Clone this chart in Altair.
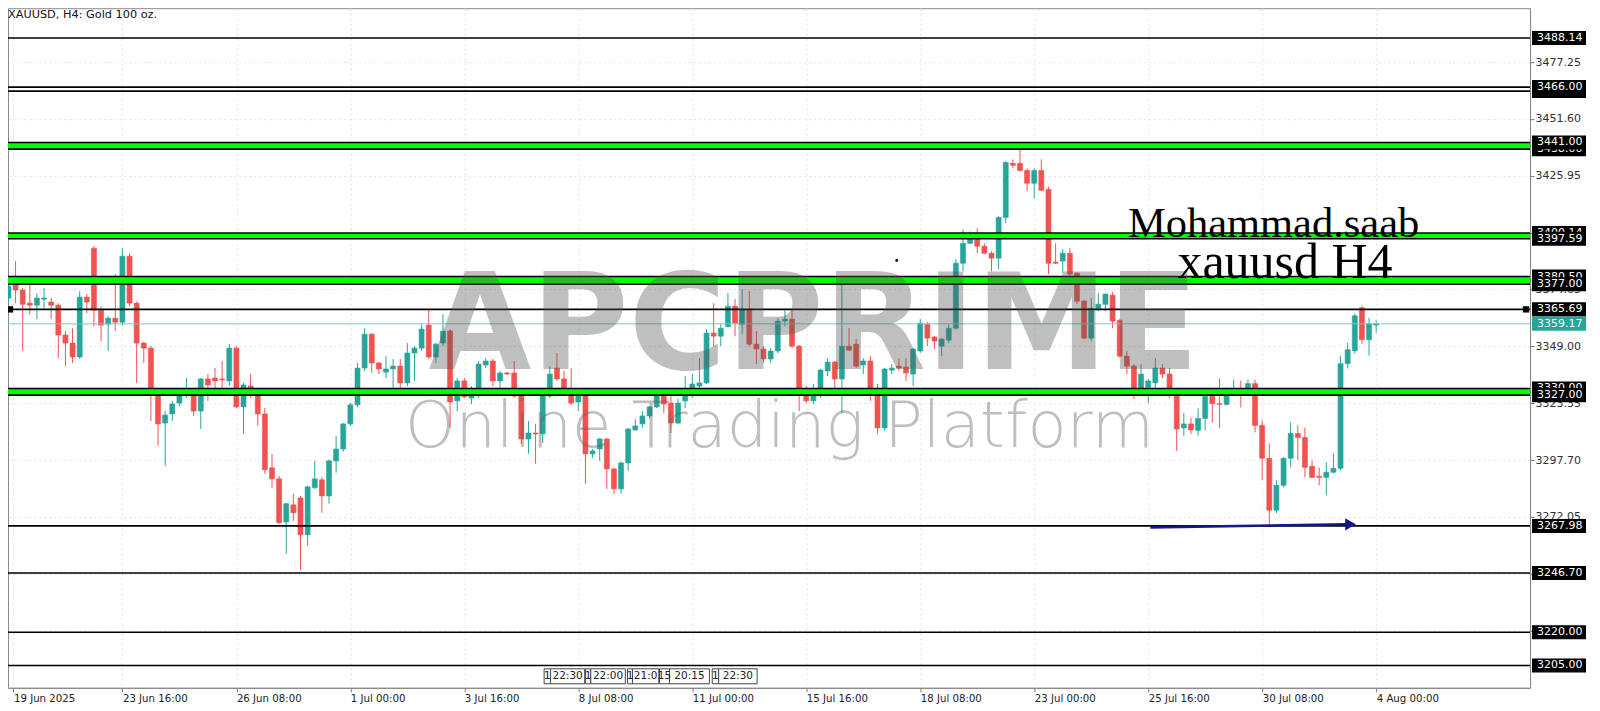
import altair as alt
import pandas as pd

# ---------------- data ----------------
opens = [
    3370.8, 3379.3, 3374.4, 3368.5, 3367.6, 3370.3, 3369.0, 3367.6, 3354.1, 3350.5,
    3344.2, 3371.2, 3393.3, 3365.3, 3359.0, 3361.7, 3359.9, 3389.7, 3368.5, 3350.5,
    3348.2, 3327.5, 3314.4, 3318.5, 3323.4, 3327.0, 3326.6, 3319.8, 3334.3, 3334.7,
    3334.3, 3333.4, 3348.2, 3321.7, 3331.1, 3326.6, 3318.5, 3294.2, 3289.2, 3269.8,
    3277.5, 3280.6, 3264.0, 3285.2, 3288.8, 3281.5, 3297.3, 3302.7, 3314.0, 3322.6,
    3339.2, 3354.5, 3341.5, 3337.4, 3338.8, 3340.1, 3332.5, 3346.0, 3348.2, 3358.6,
    3344.2, 3350.5, 3355.9, 3324.4, 3333.4, 3325.7, 3328.9, 3340.6, 3342.4, 3333.4,
    3337.0, 3337.0, 3327.5, 3307.2, 3309.9, 3309.5, 3326.6, 3339.2, 3334.3, 3329.8,
    3323.9, 3327.9, 3300.5, 3302.7, 3307.2, 3293.7, 3284.7, 3296.4, 3311.3, 3314.0,
    3317.6, 3321.7, 3327.9, 3323.4, 3314.4, 3324.4, 3329.8, 3331.1, 3332.5, 3355.0,
    3353.6, 3358.0, 3367.1, 3359.0, 3365.8, 3350.0, 3347.8, 3343.3, 3346.9, 3360.4,
    3361.3, 3349.1, 3329.8, 3324.4, 3329.8, 3337.9, 3341.9, 3334.3, 3349.1, 3350.0,
    3340.6, 3342.4, 3327.9, 3312.2, 3338.3, 3340.1, 3339.7, 3336.5, 3346.9, 3359.0,
    3353.2, 3349.1, 3351.8, 3357.2, 3386.5, 3395.5, 3398.7, 3394.2, 3391.0, 3388.8,
    3407.2, 3431.6, 3431.6, 3428.4, 3422.6, 3428.4, 3419.9, 3387.0, 3387.5, 3391.0,
    3382.0, 3369.4, 3352.7, 3366.2, 3368.0, 3372.1, 3360.8, 3344.6, 3340.1, 3329.8,
    3330.5, 3332.5, 3339.2, 3336.5, 3328.9, 3312.2, 3314.0, 3311.1, 3316.5, 3326.4,
    3323.2, 3322.8, 3327.7, 3330.0, 3327.7, 3332.2, 3313.3, 3298.5, 3275.1, 3286.3,
    3298.5, 3309.7, 3307.9, 3294.9, 3290.4, 3289.9, 3292.2, 3294.0, 3341.2, 3347.0,
    3366.4, 3352.0, 3358.6,
]
highs = [
    3378.4, 3387.4, 3375.3, 3378.4, 3373.0, 3375.3, 3370.8, 3368.5, 3355.9, 3357.2,
    3373.9, 3372.6, 3394.2, 3367.1, 3362.6, 3381.6, 3393.3, 3391.0, 3369.2, 3351.0,
    3349.1, 3327.9, 3319.8, 3324.4, 3329.8, 3334.7, 3327.5, 3334.7, 3336.5, 3339.2,
    3342.4, 3350.0, 3349.1, 3332.5, 3336.5, 3327.5, 3321.2, 3300.5, 3290.6, 3278.4,
    3282.5, 3281.5, 3286.1, 3297.3, 3290.0, 3298.0, 3308.6, 3314.4, 3323.5, 3341.5,
    3357.2, 3355.0, 3342.0, 3344.6, 3343.3, 3343.3, 3350.5, 3349.0, 3359.0, 3365.8,
    3350.5, 3363.5, 3356.8, 3334.7, 3334.7, 3331.1, 3342.4, 3343.7, 3343.3, 3337.9,
    3337.4, 3342.4, 3328.9, 3315.3, 3314.0, 3327.5, 3340.1, 3346.0, 3337.9, 3339.2,
    3328.9, 3328.5, 3302.7, 3307.7, 3307.7, 3294.2, 3297.0, 3312.2, 3316.2, 3319.8,
    3322.1, 3330.2, 3329.8, 3327.5, 3325.3, 3335.6, 3336.5, 3343.7, 3356.8, 3368.5,
    3359.0, 3373.0, 3370.3, 3374.8, 3373.9, 3355.9, 3349.1, 3348.2, 3361.7, 3365.8,
    3365.8, 3349.6, 3331.1, 3332.0, 3338.8, 3343.7, 3342.4, 3377.0, 3357.2, 3352.3,
    3343.7, 3344.6, 3332.0, 3339.2, 3341.0, 3343.7, 3343.7, 3348.2, 3361.3, 3360.0,
    3353.6, 3352.7, 3359.0, 3388.3, 3401.8, 3400.9, 3402.3, 3395.5, 3391.9, 3407.7,
    3432.5, 3433.4, 3437.9, 3429.3, 3429.3, 3433.4, 3421.0, 3395.5, 3392.8, 3393.3,
    3382.5, 3369.9, 3370.8, 3373.0, 3373.0, 3373.5, 3361.3, 3346.9, 3341.0, 3341.0,
    3334.3, 3343.7, 3341.0, 3339.2, 3330.0, 3319.0, 3316.7, 3321.0, 3330.0, 3330.0,
    3334.5, 3330.4, 3334.0, 3333.6, 3334.0, 3334.0, 3315.6, 3305.2, 3288.6, 3298.9,
    3314.7, 3313.3, 3312.4, 3297.6, 3294.4, 3296.7, 3300.7, 3344.8, 3350.6, 3363.7,
    3367.3, 3361.9, 3360.8,
]
lows = [
    3369.4, 3368.5, 3346.9, 3363.5, 3361.3, 3366.2, 3361.3, 3343.7, 3340.1, 3341.5,
    3343.3, 3364.0, 3358.1, 3351.4, 3346.9, 3355.9, 3358.5, 3367.1, 3332.5, 3341.5,
    3315.3, 3304.1, 3295.1, 3315.3, 3322.1, 3325.7, 3317.6, 3311.7, 3324.4, 3330.2,
    3330.2, 3331.1, 3321.2, 3309.5, 3325.7, 3313.1, 3291.5, 3285.2, 3269.0, 3255.4,
    3270.3, 3248.0, 3259.0, 3284.7, 3273.9, 3278.0, 3292.0, 3301.5, 3313.0, 3321.5,
    3337.9, 3337.0, 3336.5, 3334.7, 3328.9, 3328.9, 3331.0, 3333.4, 3347.0, 3343.3,
    3341.5, 3349.1, 3312.2, 3319.8, 3325.7, 3323.0, 3325.7, 3339.2, 3331.1, 3330.2,
    3336.1, 3325.7, 3305.0, 3300.5, 3296.0, 3305.4, 3325.7, 3333.4, 3329.0, 3322.5,
    3319.8, 3287.0, 3298.7, 3297.3, 3284.7, 3282.5, 3282.5, 3292.8, 3310.9, 3312.2,
    3316.7, 3321.2, 3319.0, 3309.9, 3314.0, 3321.2, 3325.7, 3330.2, 3332.0, 3349.1,
    3349.1, 3357.5, 3353.6, 3354.5, 3349.0, 3341.0, 3341.5, 3341.5, 3346.0, 3358.1,
    3348.2, 3319.8, 3323.5, 3323.0, 3325.7, 3335.6, 3330.2, 3319.0, 3346.9, 3339.2,
    3336.5, 3324.4, 3309.5, 3310.9, 3336.5, 3337.9, 3333.4, 3331.1, 3346.0, 3349.1,
    3347.8, 3344.6, 3350.5, 3356.5, 3382.9, 3395.1, 3391.0, 3390.6, 3382.9, 3383.8,
    3404.6, 3429.3, 3428.0, 3419.0, 3415.8, 3419.0, 3381.6, 3386.1, 3382.0, 3378.4,
    3368.0, 3352.3, 3351.4, 3364.9, 3364.9, 3357.2, 3344.0, 3336.5, 3325.3, 3328.9,
    3323.4, 3329.8, 3334.7, 3325.7, 3301.8, 3308.6, 3309.5, 3308.8, 3311.1, 3314.7,
    3312.0, 3322.3, 3326.8, 3321.4, 3326.8, 3310.2, 3288.6, 3268.5, 3273.8, 3285.4,
    3294.4, 3297.6, 3289.9, 3289.5, 3286.3, 3281.8, 3291.7, 3293.1, 3339.0, 3345.7,
    3350.2, 3344.8, 3355.1,
]
closes = [
    3376.2, 3374.4, 3368.0, 3367.6, 3370.8, 3370.8, 3367.6, 3354.1, 3350.5, 3344.2,
    3371.2, 3369.0, 3365.3, 3358.6, 3361.7, 3359.9, 3389.7, 3368.5, 3350.5, 3348.2,
    3327.5, 3314.0, 3318.0, 3323.0, 3326.6, 3327.5, 3319.8, 3334.3, 3331.6, 3333.4,
    3333.9, 3348.2, 3321.7, 3331.6, 3327.5, 3318.5, 3293.3, 3289.2, 3269.4, 3278.0,
    3273.9, 3264.0, 3285.6, 3289.2, 3281.5, 3297.3, 3302.7, 3314.0, 3322.6, 3339.2,
    3354.5, 3341.5, 3338.8, 3338.8, 3340.1, 3332.5, 3346.0, 3348.2, 3356.8, 3344.2,
    3350.0, 3355.9, 3323.9, 3333.4, 3326.2, 3328.9, 3341.0, 3342.4, 3333.4, 3337.0,
    3336.5, 3326.6, 3307.2, 3309.9, 3309.5, 3326.6, 3336.5, 3334.3, 3329.8, 3323.4,
    3327.5, 3300.5, 3301.8, 3307.2, 3293.7, 3284.7, 3296.4, 3311.7, 3313.1, 3317.6,
    3321.7, 3327.9, 3323.0, 3314.4, 3323.4, 3329.8, 3332.0, 3332.5, 3355.0, 3353.6,
    3357.2, 3367.1, 3359.5, 3365.8, 3350.0, 3347.8, 3343.3, 3346.9, 3360.4, 3361.3,
    3349.1, 3329.8, 3324.4, 3329.8, 3338.3, 3341.9, 3334.3, 3349.1, 3347.3, 3340.1,
    3342.4, 3327.9, 3312.2, 3338.8, 3339.2, 3339.2, 3337.0, 3347.8, 3359.5, 3352.7,
    3351.4, 3352.3, 3357.2, 3386.5, 3395.5, 3397.8, 3394.2, 3391.0, 3388.8, 3407.2,
    3432.0, 3430.7, 3428.4, 3422.6, 3428.4, 3419.4, 3386.5, 3386.5, 3391.0, 3381.6,
    3369.4, 3352.7, 3366.2, 3368.0, 3372.6, 3360.4, 3344.6, 3340.1, 3329.8, 3336.5,
    3333.4, 3339.2, 3336.5, 3327.9, 3311.7, 3314.0, 3311.3, 3316.5, 3326.4, 3323.2,
    3322.8, 3326.8, 3330.0, 3327.7, 3332.2, 3313.3, 3298.5, 3275.1, 3286.3, 3298.5,
    3309.7, 3307.9, 3294.4, 3289.9, 3289.9, 3292.2, 3294.0, 3341.2, 3347.5, 3362.8,
    3352.0, 3359.2, 3359.2,
]

x_tick_pos = [0.7, 16, 32, 48, 64, 80, 96, 112, 128, 144, 160, 176, 192]
x_tick_text = ["19 Jun 2025", "23 Jun 16:00", "26 Jun 08:00", "1 Jul 00:00",
               "3 Jul 16:00", "8 Jul 08:00", "11 Jul 00:00", "15 Jul 16:00",
               "18 Jul 08:00", "23 Jul 00:00", "25 Jul 16:00", "30 Jul 08:00",
               "4 Aug 00:00"]
y_tick_values = [3477.25, 3451.60, 3425.95, 3400.30, 3374.65, 3349.00,
                 3323.35, 3297.70, 3272.05, 3246.40, 3220.75]

line_prices = [3488.14, 3466.00, 3464.20, 3365.69, 3267.98, 3246.70, 3220.00, 3205.00]
band_low = [3438.00, 3397.59, 3377.00, 3327.00]
band_high = [3441.00, 3400.14, 3380.50, 3330.00]
bid_price = 3359.17

under_labels = [3464.20, 3438.00, 3400.14, 3380.50, 3330.00]
over_labels = [3488.14, 3466.00, 3441.00, 3397.59, 3377.00, 3365.69,
               3327.00, 3267.98, 3246.70, 3220.00, 3205.00, 3359.17]
over_colors = ["#000000"] * 11 + ["#26a69a"]

arrow_x = [160.3, 189.0]
arrow_p = [3267.3, 3268.7]
dot_x, dot_p = [124.7], [3387.8]

annot_text = ["Mohammad.saab", "xauusd H4"]
annot_size = [42.5, 50]
annot_x = [177.6, 179.2]
annot_p = [3398.4, 3380.0]

event_x0 = [75.2, 76.1, 81.0, 81.75, 86.9, 87.6, 91.4, 92.8, 98.8, 99.7]
event_x1 = [76.1, 80.9, 81.75, 86.6, 87.6, 91.3, 92.8, 98.4, 99.7, 105.1]
event_txt = ["1", "22:30", "1", "22:00", "1", "21:0", "15", "20:15", "1", "22:30"]

# ---------------- layout ----------------
PW, PH = 1523, 680
BULL, BEAR = "#26a69a", "#ef5350"
FONT = "DejaVu Sans"

df = pd.DataFrame({"i": list(range(len(opens))), "o": opens, "h": highs,
                   "l": lows, "c": closes})
df["col"] = [BULL if c >= o else BEAR for o, c in zip(df.o, df.c)]

xs = alt.Scale(domain=[0.64, 212.9], nice=False, zero=False)
ys = alt.Scale(domain=[3194.93, 3501.59], nice=False, zero=False)

label_expr = "[" + ",".join("'%s'" % t for t in x_tick_text) + "][round(datum.value/16)]"
x_axis = alt.Axis(values=x_tick_pos, labelExpr=label_expr, labelAlign="left",
                  labelFont=FONT, labelFontSize=10.2, labelColor="#222",
                  tickSize=4, tickColor="#777", domainColor="#888",
                  labelPadding=2, grid=True, gridColor="#e2e2e2",
                  gridDash=[2, 3], labelFlush=False, labelOverlap=False, title=None)
y_axis = alt.Axis(values=y_tick_values, format=".2f", orient="right",
                  labelFont=FONT, labelFontSize=11, labelColor="#303030",
                  tickSize=4, tickColor="#777", domainColor="#888",
                  labelPadding=1, grid=True, gridColor="#e2e2e2",
                  gridDash=[2, 3], labelOverlap=False, labelFlush=False, title=None)


def X(f):
    return alt.X(f, scale=xs, title=None)


def Y(f):
    return alt.Y(f, scale=ys, title=None)


base = alt.Chart(df)
wicks = base.mark_rule(strokeWidth=1, clip=True).encode(
    x=alt.X("i:Q", scale=xs, axis=x_axis, title=None),
    y=alt.Y("l:Q", scale=ys, axis=y_axis, title=None),
    y2="h:Q",
    color=alt.Color("col:N", scale=None),
)
bodies = base.mark_bar(size=5, clip=True, strokeWidth=0.6).encode(
    x=X("i:Q"), y=Y("o:Q"), y2="c:Q",
    color=alt.Color("col:N", scale=None),
    stroke=alt.Stroke("col:N", scale=None),
)

bands_df = pd.DataFrame({"lo": band_low, "hi": band_high})
bands = alt.Chart(bands_df).mark_rect(color="#00ff00", clip=True).encode(
    x=alt.value(0), x2=alt.value(PW), y=Y("lo:Q"), y2="hi:Q")
band_edges = alt.Chart(pd.DataFrame({"p": band_low + band_high})).mark_rule(
    color="#000000", strokeWidth=1.6, clip=True).encode(y=Y("p:Q"))
lines = alt.Chart(pd.DataFrame({"p": line_prices})).mark_rule(
    color="#000000", strokeWidth=1.6, clip=True).encode(y=Y("p:Q"))
bid = alt.Chart(pd.DataFrame({"p": [bid_price]})).mark_rule(
    color="#7cc4bd", strokeWidth=1, clip=True).encode(y=Y("p:Q"))

sq_df = pd.DataFrame({"p": [3365.69]})
sq_left = alt.Chart(sq_df).mark_square(size=40, color="#000000", opacity=1).encode(
    x=alt.value(2), y=Y("p:Q"))
sq_right = alt.Chart(sq_df).mark_square(size=40, color="#000000", opacity=1).encode(
    x=alt.value(PW - 4), y=Y("p:Q"))

arrow = alt.Chart(pd.DataFrame({"x": [arrow_x[0]], "x2": [arrow_x[1] - 1.2],
                                "p": [arrow_p[0]], "p2": [arrow_p[1]]})).mark_rule(
    color="#101a87", strokeWidth=2.6).encode(x=X("x:Q"), x2="x2:Q", y=Y("p:Q"), y2="p2:Q")
arrow_head = alt.Chart(pd.DataFrame({"x": [arrow_x[1] - 0.6], "p": [arrow_p[1]]})).mark_point(
    shape="triangle-right", filled=True, size=150, color="#101a87", opacity=1).encode(
    x=X("x:Q"), y=Y("p:Q"))
dot = alt.Chart(pd.DataFrame({"x": dot_x, "p": dot_p})).mark_point(
    filled=True, size=8, color="#000", opacity=1).encode(x=X("x:Q"), y=Y("p:Q"))

one = pd.DataFrame({"a": [0]})
wm1 = alt.Chart(one).mark_text(text="APCPRIME", font=FONT, fontWeight="bold", fontSize=133,
                               color="#555555", opacity=0.37, align="center",
                               baseline="alphabetic").encode(x=alt.value(806), y=alt.value(361))
wm2 = alt.Chart(one).mark_text(text="Online Trading Platform", font=FONT, fontWeight=300,
                               fontSize=64, color="#606060", opacity=0.4, align="center",
                               baseline="alphabetic").encode(x=alt.value(772), y=alt.value(439))

annot = alt.Chart(pd.DataFrame({"t": annot_text, "x": annot_x, "p": annot_p,
                                "s": annot_size})).mark_text(
    font="Liberation Serif", color="#000", align="center",
    baseline="alphabetic").encode(x=X("x:Q"), y=Y("p:Q"), text="t:N",
                                  size=alt.Size("s:Q", scale=None, legend=None))

title = alt.Chart(one).mark_text(text="XAUUSD, H4:  Gold 100 oz.", font=FONT, fontSize=11.3,
                                 color="#111", align="left", baseline="middle").encode(
    x=alt.value(0), y=alt.value(7))

ev_df = pd.DataFrame({"x0": event_x0, "x1": event_x1, "t": event_txt})
ev_df["xm"] = [(a + b) / 2 for a, b in zip(event_x0, event_x1)]
ev_box = alt.Chart(ev_df).mark_rect(fill="#ffffff", stroke="#444444", strokeWidth=1).encode(
    x=X("x0:Q"), x2="x1:Q", y=alt.value(PH - 19), y2=alt.value(PH - 4))
ev_txt = alt.Chart(ev_df).mark_text(font=FONT, fontSize=10.5, color="#222", align="center",
                                    baseline="middle").encode(
    x=X("xm:Q"), y=alt.value(PH - 11.5), text="t:N")

BOX = "M-1,-0.26L1,-0.26L1,0.26L-1,0.26Z"


def price_labels(prices, colors):
    d = pd.DataFrame({"p": prices, "bg": colors})
    d["t"] = ["%.2f" % v for v in prices]
    box = alt.Chart(d).mark_point(shape=BOX, size=2916, filled=True, opacity=1,
                                  strokeWidth=0).encode(
        x=alt.value(PW + 29), y=Y("p:Q"), color=alt.Color("bg:N", scale=None))
    txt = alt.Chart(d).mark_text(font=FONT, fontSize=11, color="#ffffff", align="left",
                                 baseline="middle").encode(
        x=alt.value(PW + 7), y=Y("p:Q"), text="t:N")
    return box + txt


lab_under = price_labels(under_labels, ["#000000"] * len(under_labels))
lab_over = price_labels(over_labels, over_colors)

chart = alt.layer(
    wicks, bodies, bands, band_edges, lines, bid, sq_left, sq_right, arrow, arrow_head, dot,
    wm1, wm2, annot, title, ev_box, ev_txt, lab_under, lab_over,
).properties(
    width=PW, height=PH,
    autosize=alt.AutoSizeParams(type="none"),
    padding={"left": 0, "top": 0, "right": 62, "bottom": 22},
    background="#ffffff",
).configure_view(stroke="#888888", strokeWidth=1)

chart.save("out.html", embed_options={"renderer": "svg", "actions": False})
